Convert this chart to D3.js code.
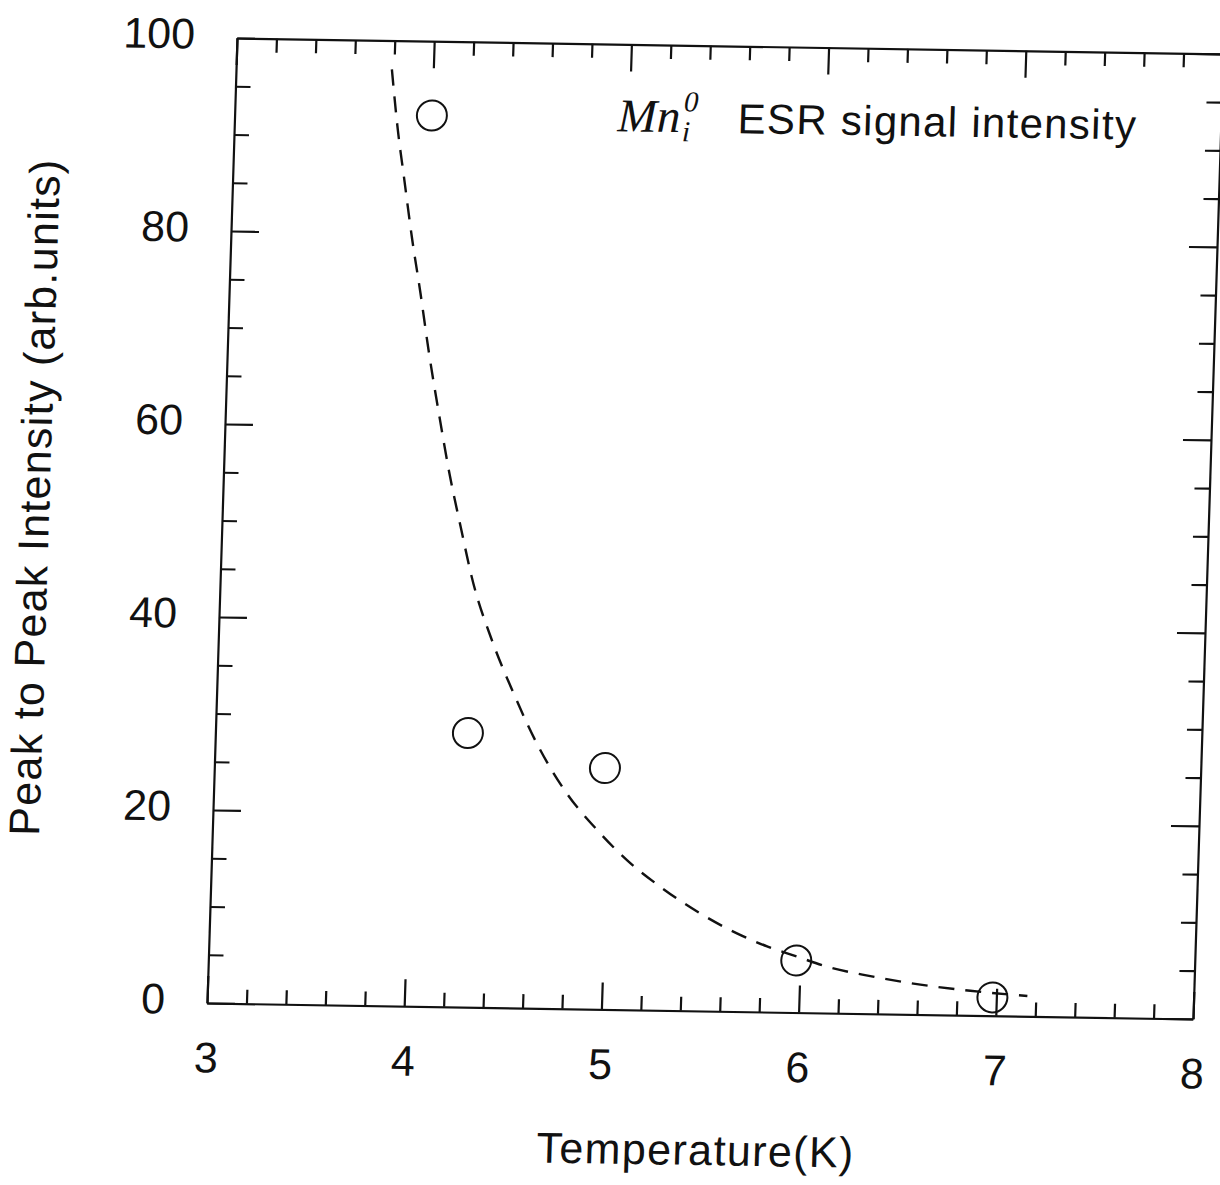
<!DOCTYPE html>
<html>
<head>
<meta charset="utf-8">
<script src="https://cdn.jsdelivr.net/npm/d3@7"></script>
<style>
  body { margin: 0; background: #fff; }
  .axis text { font-family: "Liberation Sans", Arial, sans-serif; font-size: 43px; fill: #111; }
  .axis .domain { stroke: #111; stroke-width: 2.2; }
  .axis line { stroke: #111; stroke-width: 2.2; }
</style>
</head>
<body>
<div id="chart"></div>
<script>
// measured points (Mn_i^0 ESR peak-to-peak intensity vs temperature)
var tempK = [4.0, 4.28, 4.98, 5.98, 6.98];
var intensity = [92.3, 28.4, 25.0, 5.4, 1.9];

// dashed guide curve
var fitT = [3.79, 3.83, 3.868, 3.92, 3.97, 4.02, 4.084, 4.146, 4.21, 4.284, 4.386, 4.505,
            4.64, 4.791, 4.949, 5.106, 5.279, 5.486, 5.675, 5.83, 5.983, 6.137, 6.358,
            6.613, 6.867, 7.157];
var fitI = [97.0, 90.7, 85.9, 79.4, 73.9, 68.0, 61.3, 55.2, 49.8, 43.9, 38.1, 32.6,
            27.1, 22.3, 18.6, 15.5, 12.8, 10.1, 8.1, 6.8, 5.8, 4.8, 3.9,
            3.1, 2.55, 2.1];

var xTicks = [3, 4, 5, 6, 7, 8];
var yTicks = [0, 20, 40, 60, 80, 100];

var W = 986, H = 965;

var svg = d3.select("#chart").append("svg")
  .attr("width", 1220)
  .attr("height", 1185);

svg.append("rect").attr("width", 1220).attr("height", 1185).attr("fill", "#fff");

// the scanned figure is slightly skewed, so the whole plot gets a small shear
var g = svg.append("g")
  .attr("transform", "matrix(1,0.0162,-0.0311,1,237,38)");

var x = d3.scaleLinear().domain([3, 8]).range([0, W]);
var y = d3.scaleLinear().domain([0, 100]).range([H, 0]);

var xMinor = d3.range(3, 8.001, 0.2).filter(function (d) { return Math.abs(d - Math.round(d)) > 0.01; });
var yMinor = d3.range(0, 100.1, 5).filter(function (d) { return d % 20 !== 0; });

// bottom
g.append("g").attr("class", "axis").attr("transform", "translate(0," + H + ")")
  .call(d3.axisBottom(x).tickValues(xTicks).tickSizeInner(-27).tickSizeOuter(0)
    .tickPadding(39).tickFormat(d3.format("d")));
g.append("g").attr("class", "axis").attr("transform", "translate(0," + H + ")")
  .call(d3.axisBottom(x).tickValues(xMinor).tickSize(-14).tickFormat(""))
  .select(".domain").remove();

// top
g.append("g").attr("class", "axis")
  .call(d3.axisTop(x).tickValues(xTicks).tickSizeInner(-27).tickSizeOuter(0).tickFormat(""));
g.append("g").attr("class", "axis")
  .call(d3.axisTop(x).tickValues(xMinor).tickSize(-14).tickFormat(""))
  .select(".domain").remove();

// left
var gy = g.append("g").attr("class", "axis")
  .call(d3.axisLeft(y).tickValues(yTicks).tickSizeInner(-28).tickSizeOuter(0)
    .tickPadding(42).tickFormat(d3.format("d")));
gy.selectAll("text").attr("dy", "0.25em");
g.append("g").attr("class", "axis")
  .call(d3.axisLeft(y).tickValues(yMinor).tickSize(-15).tickFormat(""))
  .select(".domain").remove();

// right
g.append("g").attr("class", "axis").attr("transform", "translate(" + W + ",0)")
  .call(d3.axisRight(y).tickValues(yTicks).tickSizeInner(-28).tickSizeOuter(0).tickFormat(""));
g.append("g").attr("class", "axis").attr("transform", "translate(" + W + ",0)")
  .call(d3.axisRight(y).tickValues(yMinor).tickSize(-15).tickFormat(""))
  .select(".domain").remove();

// dashed curve
var line = d3.line()
  .x(function (d) { return x(d[0]); })
  .y(function (d) { return y(d[1]); })
  .curve(d3.curveMonotoneX);

g.append("path")
  .datum(d3.zip(fitT, fitI))
  .attr("d", line)
  .attr("fill", "none")
  .attr("stroke", "#111")
  .attr("stroke-width", 2.4)
  .attr("stroke-dasharray", "16,11");

// open circles
g.selectAll("circle.pt")
  .data(d3.zip(tempK, intensity))
  .enter()
  .append("circle")
    .attr("class", "pt")
    .attr("cx", function (d) { return x(d[0]); })
    .attr("cy", function (d) { return y(d[1]); })
    .attr("r", 15)
    .attr("fill", "none")
    .attr("stroke", "#111")
    .attr("stroke-width", 2);

// annotation
var ann = g.append("text")
  .attr("x", 383)
  .attr("y", 87)
  .style("font-size", "47px")
  .style("fill", "#111");
ann.append("tspan")
  .style("font-family", "'Liberation Serif', 'Times New Roman', serif")
  .style("font-style", "italic")
  .text("Mn");
ann.append("tspan")
  .style("font-family", "'Liberation Serif', 'Times New Roman', serif")
  .style("font-style", "italic")
  .style("font-size", "29px")
  .attr("dx", 2)
  .attr("dy", 9)
  .text("i");
ann.append("tspan")
  .style("font-family", "'Liberation Serif', 'Times New Roman', serif")
  .style("font-style", "italic")
  .style("font-size", "29px")
  .attr("dx", -7)
  .attr("dy", -30)
  .text("0");
ann.append("tspan")
  .attr("x", 503)
  .attr("y", 87)
  .style("font-family", "'Liberation Sans', Arial, sans-serif")
  .style("font-size", "42px")
  .style("letter-spacing", "1.3px")
  .text("ESR signal intensity");

// axis titles
g.append("text")
  .attr("x", W / 2)
  .attr("y", H + 154)
  .attr("text-anchor", "middle")
  .style("font-family", "'Liberation Sans', Arial, sans-serif")
  .style("font-size", "43px")
  .style("letter-spacing", "1.4px")
  .style("fill", "#111")
  .text("Temperature(K)");

g.append("text")
  .attr("transform", "translate(-173,462) rotate(-90)")
  .attr("text-anchor", "middle")
  .style("font-family", "'Liberation Sans', Arial, sans-serif")
  .style("font-size", "43px")
  .style("letter-spacing", "1.3px")
  .style("fill", "#111")
  .text("Peak to Peak Intensity (arb.units)");
</script>
</body>
</html>
